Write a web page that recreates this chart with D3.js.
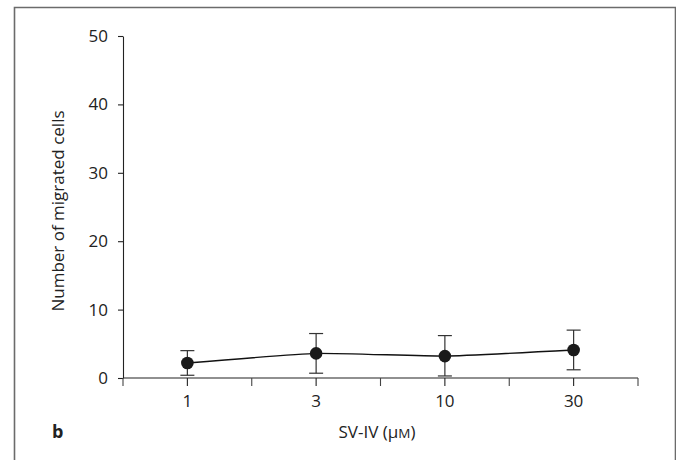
<!DOCTYPE html>
<html><head><meta charset="utf-8">
<script src="https://cdn.jsdelivr.net/npm/d3@7"></script>
<style>body{margin:0;background:#fff;} svg{display:block;}</style>
</head><body>
<svg id="c" width="676" height="460"></svg>
<script>
const categories = ["1", "3", "10", "30"];
const means = [2.2, 3.6, 3.2, 4.1];
const errUpper = [4.0, 6.5, 6.2, 7.0];
const errLower = [0.4, 0.7, 0.3, 1.2];
const yTicks = [0, 10, 20, 30, 40, 50];

(function () {
const svg = d3.select("#c");
const font = "'Open Sans', 'Noto Sans', sans-serif";
const fs = 17;

// frame
svg.append("path").attr("d", "M14.5,470 V7.5 H675.5 V470")
  .attr("fill", "none").attr("stroke", "#6b6b6b").attr("stroke-width", 1.6);

const mLeft = 123, mRight = 638, mTop = 36, mBottom = 378;
const y = d3.scaleLinear().domain([0, 50]).range([mBottom, mTop]);
const x = d3.scaleBand().domain(categories).range([mLeft, mRight]).paddingInner(0).paddingOuter(0);
const xc = d => x(d) + x.bandwidth() / 2;

// y axis
const yAxis = d3.axisLeft(y).tickValues(yTicks).tickSize(5).tickSizeOuter(0).tickPadding(10);
const gy = svg.append("g").attr("transform", `translate(${mLeft},0)`).call(yAxis);
gy.select(".domain").attr("stroke", "#222").attr("stroke-width", 1.1);
gy.selectAll(".tick line").attr("stroke", "#222").attr("stroke-width", 1.1);
gy.selectAll(".tick text").attr("font-family", font).attr("font-size", fs).attr("fill", "#222");

// x axis: ticks at every band boundary and center
const gx = svg.append("g").attr("transform", `translate(0,${mBottom})`);
gx.append("line").attr("x1", mLeft).attr("x2", mRight).attr("stroke", "#222").attr("stroke-width", 1.1);
const boundaries = categories.map(c => x(c)).concat([mRight]);
gx.selectAll("line.b").data(boundaries).enter().append("line").attr("class", "b")
  .attr("x1", d => d).attr("x2", d => d).attr("y1", 0).attr("y2", 8)
  .attr("stroke", "#444").attr("stroke-width", 1.1);
gx.selectAll("line.c").data(categories).enter().append("line").attr("class", "c")
  .attr("x1", d => xc(d)).attr("x2", d => xc(d)).attr("y1", 0).attr("y2", 8)
  .attr("stroke", "#222").attr("stroke-width", 1.1);
gx.selectAll("text").data(categories).enter().append("text")
  .attr("x", d => xc(d)).attr("y", 29).attr("text-anchor", "middle")
  .attr("font-family", font).attr("font-size", fs).attr("fill", "#222").text(d => d);

// y label
svg.append("text").attr("transform", "translate(64,211) rotate(-90)")
  .attr("text-anchor", "middle").attr("font-family", font).attr("font-size", fs).attr("fill", "#222")
  .text("Number of migrated cells");

// x label
const xl = svg.append("text").attr("x", 377).attr("y", 438).attr("text-anchor", "middle")
  .attr("font-family", font).attr("font-size", fs).attr("fill", "#222");
xl.append("tspan").text("SV-IV (μ");
xl.append("tspan").attr("font-size", 13.5).text("M");
xl.append("tspan").text(")");

// panel letter
svg.append("text").attr("x", 52).attr("y", 438).attr("font-family", font).attr("font-weight", "bold")
  .attr("font-size", 18).attr("fill", "#222").text("b");

// error bars
const data = categories.map((c, i) => ({c, m: means[i], hi: errUpper[i], lo: errLower[i]}));
const eb = svg.append("g").attr("stroke", "#333").attr("stroke-width", 1.2);
data.forEach(d => {
  eb.append("line").attr("x1", xc(d.c)).attr("x2", xc(d.c)).attr("y1", y(d.lo)).attr("y2", y(d.hi));
  eb.append("line").attr("x1", xc(d.c) - 7).attr("x2", xc(d.c) + 7).attr("y1", y(d.hi)).attr("y2", y(d.hi));
  eb.append("line").attr("x1", xc(d.c) - 7).attr("x2", xc(d.c) + 7).attr("y1", y(d.lo)).attr("y2", y(d.lo));
});

// line
svg.append("path").datum(data)
  .attr("d", d3.line().x(d => xc(d.c)).y(d => y(d.m)).curve(d3.curveCardinal.tension(0.6)))
  .attr("fill", "none").attr("stroke", "#111").attr("stroke-width", 1.4);

// points
svg.selectAll("circle").data(data).enter().append("circle")
  .attr("cx", d => xc(d.c)).attr("cy", d => y(d.m)).attr("r", 6.3).attr("fill", "#1a1a1a");
})();
</script>
</body></html>
